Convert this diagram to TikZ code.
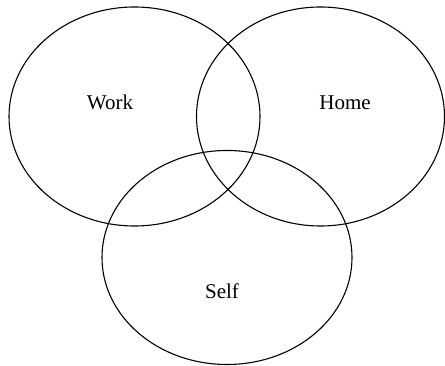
\documentclass[tikz,border=0pt]{standalone}
\usepackage{fontspec}
\setmainfont{Liberation Serif}
\begin{document}
\begin{tikzpicture}[x=1pt,y=1pt,
  lbl/.style={font=\fontsize{21}{24}\selectfont,anchor=base}]
\useasboundingbox (0,0) rectangle (445,366);
\draw[line width=1.1pt] (134.5,249.5) ellipse [x radius=125.5, y radius=109.5];
\draw[line width=1.1pt] (320.5,249.5) ellipse [x radius=124, y radius=109.5];
\draw[line width=1.1pt] (227,108.5) ellipse [x radius=125, y radius=107];
\node[lbl] (work) at (110,256) {Work};
\node[lbl] (home) at (345,256) {Home};
\node[lbl] (self) at (222,67) {Self};
\end{tikzpicture}
\end{document}
